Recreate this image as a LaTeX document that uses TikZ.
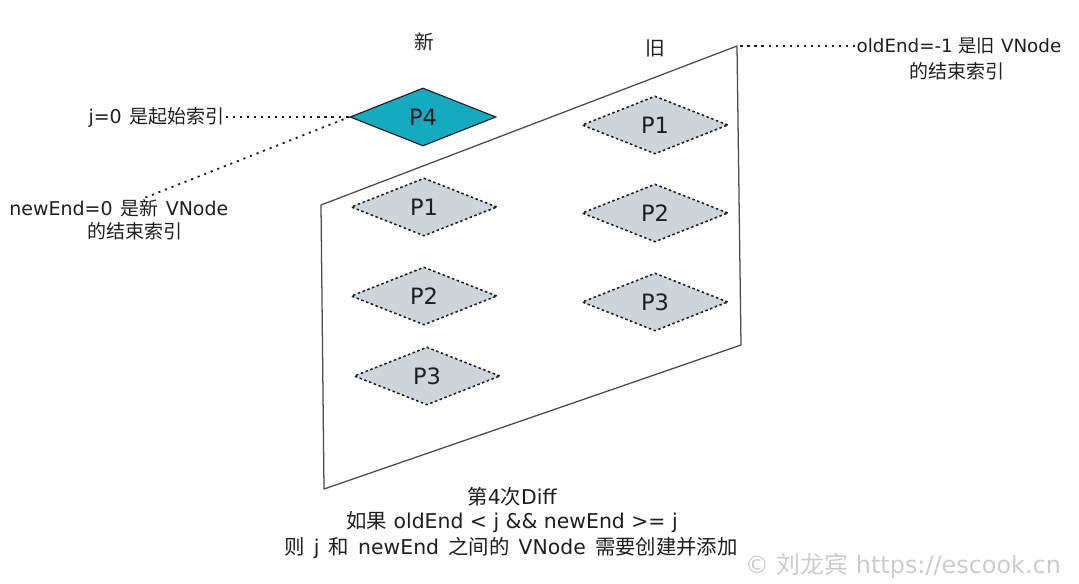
\documentclass[tikz,border=0pt]{standalone}
\usepackage{fontspec}
\setmainfont{DejaVu Sans}
\newfontfamily\cjk[Scale=1.0]{Noto Sans CJK SC}
\usetikzlibrary{positioning, shapes.geometric}
\definecolor{inkgray}{HTML}{1E1E1E}
\definecolor{tealfill}{HTML}{15AABF}
\definecolor{greyfill}{HTML}{CED4DA}
\newcommand\notespace{\spaceskip 0.4em\relax}
\newcommand\capspace{\spaceskip 0.45em\relax}
\tikzset{
    vnode/.style={diamond, draw=inkgray, minimum width=3.65cm, minimum height=1.45cm, inner sep=0pt, font=\fontsize{16}{19}\selectfont, text=inkgray},
    oldnode/.style={vnode, fill=greyfill, line width=1.1pt, dash pattern=on 1.8pt off 1.8pt},
    newnode/.style={vnode, fill=tealfill, line width=0.8pt},
    note/.style={font={\fontsize{13.5}{16}\selectfont\notespace}, text=inkgray, inner sep=1pt},
    caption/.style={note, font={\fontsize{14.5}{17}\selectfont\capspace}},
    pointer/.style={draw=inkgray, line width=1.3pt, dash pattern=on 1.5pt off 3.5pt},
    frame/.style={draw=inkgray!80, line width=0.9pt, line join=round}
}

\begin{document}
\begin{tikzpicture}[x=0.025cm, y=-0.025cm]
\useasboundingbox (0,0) rectangle (1079,584);

% Frame
\coordinate (tl) at (321,205);
\coordinate (tr) at (737,46);
\coordinate (br) at (741,345);
\coordinate (bl) at (324,489);
\draw[frame] (tl) -- (tr) -- (br) -- (bl) -- cycle;

% Nodes
\node[newnode] (p4) at (423,117) {P4};
\node[oldnode] (n1) at (424,207) {P1};
\node[oldnode] (n2) at (424,296) {P2};
\node[oldnode] (n3) at (427,376) {P3};
\node[oldnode] (o1) at (655,125) {P1};
\node[oldnode] (o2) at (655,213) {P2};
\node[oldnode] (o3) at (655,302) {P3};

% Headers
\node[note, font=\fontsize{14}{16}\selectfont] (newhead) at (424,42) {\cjk 新};
\node[note, font=\fontsize{14}{16}\selectfont] (oldhead) at (655,48) {\cjk 旧};

% Notes
\node[note, anchor=east] (jstart) at (226,117) {j=0 {\cjk 是起始索引}};
\node[note, anchor=east] (newend) at (230,208) {newEnd=0 {\cjk 是新} VNode};
\node[note] (newendb) at (135,231) {\cjk 的结束索引};
\node[note, anchor=west, font=\fontsize{13}{16}\selectfont] (oldend) at (855,46) {oldEnd=-1 {\cjk 是旧} VNode};
\node[note] (oldendb) at (957,71) {\cjk 的结束索引};

% Pointers
\draw[pointer] (jstart) -- (p4.west);
\draw[pointer] (newend) -- (p4.west);
\draw[pointer] (oldend) -- (tr);

% Caption
\node[caption] (step) at (512,497) {{\cjk 第}4{\cjk 次}Diff};
\node[caption, font=\fontsize{14.5}{17}\selectfont] (cond) at (512,522) {{\cjk 如果} oldEnd < j \&\& newEnd >= j};
\node[caption] (todo) at (511,548) {{\cjk 则} j {\cjk 和} newEnd {\cjk 之间的} VNode {\cjk 需要创建并添加}};

% Watermark
\node[font=\fontsize{17}{19}\selectfont, text=gray!40] (mark) at (903,566) {© {\cjk 刘龙宾} https://escook.cn};

\end{tikzpicture}
\end{document}
